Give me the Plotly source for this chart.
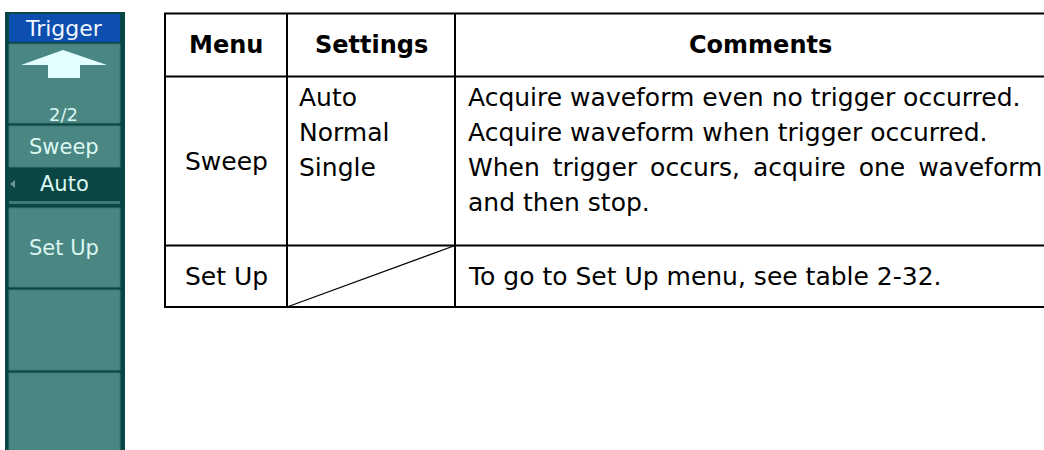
import plotly.graph_objects as go

# ---- data (texts) ----
headers = ["Menu", "Settings", "Comments"]
menu_items = ["Sweep", "Set Up"]
sweep_settings = ["Auto", "Normal", "Single"]
sweep_comments = [
    "Acquire waveform even no trigger occurred.",
    "Acquire waveform when trigger occurred.",
    "When trigger occurs, acquire one waveform",
    "and then stop.",
]
justified = [False, False, True, False]
setup_comment = "To go to Set Up menu, see table 2-32."
softkey_title = "Trigger"
softkey_page = "2/2"
softkey_labels = ["Sweep", "Auto", "Set Up"]

W, H = 1044, 450
fig = go.Figure()

DARK = "#0a4644"
TEAL = "#4a8682"
BLUE = "#0c4fae"
PALE = "#dcf6f2"

shapes = []
# softkey panel background
shapes.append(dict(type="rect", x0=5, x1=125, y0=12, y1=452, fillcolor=DARK, line=dict(width=0)))
# title
shapes.append(dict(type="rect", x0=9, x1=120, y0=14, y1=42, fillcolor=BLUE, line=dict(width=0)))
# buttons
for (a, b) in [(44, 123), (126, 167), (208, 287), (290, 370), (373, 455)]:
    shapes.append(dict(type="rect", x0=9, x1=120, y0=a, y1=b, fillcolor=TEAL,
                       line=dict(color="#3d7672", width=1)))
# thin light line above Set Up
shapes.append(dict(type="rect", x0=9, x1=120, y0=201, y1=204, fillcolor="#3f7b77", line=dict(width=0)))
# arrow
shapes.append(dict(type="path",
                   path="M 63 50 L 107 65 L 80 65 L 80 78 L 48 78 L 48 65 L 21 65 Z",
                   fillcolor="#e4ffff", line=dict(width=0)))
# small selector triangle
shapes.append(dict(type="path", path="M 10 184 L 15 180 L 15 188 Z",
                   fillcolor="#6f9995", line=dict(width=0)))

# table
xl, x1, x2, xr = 165, 287, 455, 1060
yt, yh, yr, yb = 13.5, 76.5, 245.5, 307
LW = 2
for y in (yt, yh, yr, yb):
    shapes.append(dict(type="line", x0=xl - 1, x1=xr, y0=y, y1=y, line=dict(color="black", width=LW)))
for x in (xl, x1, x2):
    shapes.append(dict(type="line", x0=x, x1=x, y0=yt, y1=yb, line=dict(color="black", width=LW)))
# diagonal in empty settings cell
shapes.append(dict(type="line", x0=x1, x1=x2, y0=yb, y1=yr, line=dict(color="black", width=1.3)))

ann = []
TF = "DejaVu Sans"
FS = 25
# headers
for txt, cx in zip(headers, [(xl + x1) / 2, (x1 + x2) / 2, 760]):
    ann.append(dict(x=cx, y=(yt + yh) / 2, text="<b>%s</b>" % txt, showarrow=False,
                    font=dict(family=TF, size=24, color="black"), xanchor="center", yanchor="middle"))
# menu column
ann.append(dict(x=(xl + x1) / 2, y=161, text=menu_items[0], showarrow=False,
                font=dict(family=TF, size=FS, color="black"), xanchor="center", yanchor="middle"))
ann.append(dict(x=(xl + x1) / 2, y=(yr + yb) / 2, text=menu_items[1], showarrow=False,
                font=dict(family=TF, size=FS, color="black"), xanchor="center", yanchor="middle"))
line_y = [97, 132, 167, 202]
for i, s in enumerate(sweep_settings):
    ann.append(dict(x=x1 + 10, y=line_y[i], text=s, showarrow=False,
                    font=dict(family=TF, size=FS, color="black"), xanchor="left", yanchor="middle"))
for i, c in enumerate(sweep_comments):
    sep = "\u00a0\u2009" if justified[i] else "\u00a0"
    ann.append(dict(x=x2 + 11, y=line_y[i], text=sep.join(c.split(" ")), showarrow=False,
                    font=dict(family=TF, size=FS, color="black"), xanchor="left", yanchor="middle"))
ann.append(dict(x=x2 + 11, y=(yr + yb) / 2, text=setup_comment, showarrow=False,
                font=dict(family=TF, size=FS, color="black"), xanchor="left", yanchor="middle"))

# softkey texts
SF = "DejaVu Sans"
ann.append(dict(x=64, y=28, text=softkey_title, showarrow=False,
                font=dict(family=SF, size=22, color="#f2f8ff"), xanchor="center", yanchor="middle"))
ann.append(dict(x=63, y=114, text=softkey_page, showarrow=False,
                font=dict(family=SF, size=18, color=PALE), xanchor="center", yanchor="middle"))
for txt, y in zip(softkey_labels, [147, 184, 248]):
    ann.append(dict(x=64, y=y, text=txt, showarrow=False,
                    font=dict(family=SF, size=21, color=PALE), xanchor="center", yanchor="middle"))

fig.update_layout(
    width=W, height=H, margin=dict(l=0, r=0, t=0, b=0),
    paper_bgcolor="white", plot_bgcolor="white",
    xaxis=dict(range=[0, W], visible=False, fixedrange=True),
    yaxis=dict(range=[H, 0], visible=False, fixedrange=True),
    shapes=shapes, annotations=ann, showlegend=False,
)
fig.write_html("out.html", config={"displayModeBar": False},
               post_script="document.body.style.margin='0';document.body.style.overflow='hidden';")
